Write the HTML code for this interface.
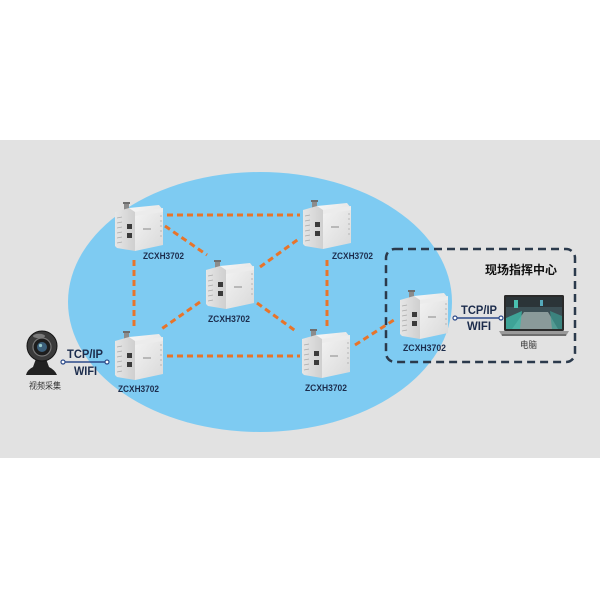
<!DOCTYPE html>
<html><head><meta charset="utf-8"><style>
html,body{margin:0;padding:0;background:#fff;}
svg{display:block;}
text{font-family:"Liberation Sans","Noto Sans CJK SC",sans-serif;}
</style></head><body>
<svg width="600" height="600" viewBox="0 0 600 600" xmlns="http://www.w3.org/2000/svg">
<defs>
  <linearGradient id="body" x1="0" y1="0" x2="1" y2="1">
    <stop offset="0" stop-color="#f7f7f7"/><stop offset="1" stop-color="#d9d9d9"/>
  </linearGradient>
  <linearGradient id="side" x1="0" y1="0" x2="1" y2="0">
    <stop offset="0" stop-color="#e6e6e6"/><stop offset="1" stop-color="#cfcfcf"/>
  </linearGradient>
  <g id="dev">
    <rect x="9" y="0" width="5" height="8" fill="#8c8c8c"/>
    <rect x="8" y="0" width="7" height="2" fill="#6e6e6e"/>
    <polygon points="14,6 44,3 48,8 48,43 20,49 14,46" fill="url(#body)"/>
    <polygon points="0,10 14,6 20,10 20,49 2,46 0,44" fill="url(#side)"/>
    <polygon points="20,10 48,6 48,10 20,14" fill="#ececec"/>
    <g stroke="#aaa" stroke-width="0.8">
      <line x1="2" y1="16" x2="7" y2="15"/><line x1="2" y1="21" x2="7" y2="20"/>
      <line x1="2" y1="26" x2="7" y2="25"/><line x1="2" y1="31" x2="7" y2="30"/>
      <line x1="2" y1="36" x2="7" y2="35"/><line x1="2" y1="41" x2="7" y2="40"/>
      <line x1="45" y1="14" x2="47" y2="14"/><line x1="45" y1="19" x2="47" y2="19"/>
      <line x1="45" y1="24" x2="47" y2="24"/><line x1="45" y1="29" x2="47" y2="29"/>
      <line x1="45" y1="34" x2="47" y2="34"/>
    </g>
    <rect x="12" y="22" width="5" height="5" fill="#3a3a3a"/>
    <rect x="12" y="31" width="5" height="5" fill="#3a3a3a"/>
    <rect x="28" y="26" width="8" height="2" fill="#b8b8b8"/>
  </g>
</defs>

<!-- background band -->
<rect x="0" y="140" width="600" height="318" fill="#e2e2e2"/>
<!-- blue ellipse -->
<ellipse cx="260" cy="302" rx="192" ry="130" fill="#7ecbf2"/>

<!-- dashed box -->
<rect x="386" y="249" width="189" height="113" rx="9" ry="9" fill="none" stroke="#2b3a4c" stroke-width="2.5" stroke-dasharray="8 5"/>

<!-- orange dashed links -->
<g stroke="#e8742a" stroke-width="3" stroke-dasharray="6 4" fill="none">
  <line x1="167" y1="215" x2="300" y2="215"/>
  <line x1="165" y1="226" x2="207" y2="255"/>
  <line x1="260" y1="267" x2="300" y2="238"/>
  <line x1="134" y1="260" x2="134" y2="330"/>
  <line x1="200" y1="302" x2="160" y2="330"/>
  <line x1="167" y1="356" x2="300" y2="356"/>
  <line x1="257" y1="303" x2="297" y2="332"/>
  <line x1="327" y1="260" x2="327" y2="327"/>
  <line x1="355" y1="345" x2="397" y2="318"/>
</g>

<!-- devices -->
<use href="#dev" x="115" y="202"/>
<use href="#dev" x="206" y="260"/>
<use href="#dev" x="303" y="200"/>
<use href="#dev" x="115" y="331"/>
<use href="#dev" x="302" y="329"/>
<use href="#dev" x="400" y="290"/>

<g fill="#1c2c4c" font-size="9" font-weight="bold">
  <text x="143" y="259" textLength="41" lengthAdjust="spacingAndGlyphs">ZCXH3702</text>
  <text x="208" y="322" textLength="42" lengthAdjust="spacingAndGlyphs">ZCXH3702</text>
  <text x="332" y="259" textLength="41" lengthAdjust="spacingAndGlyphs">ZCXH3702</text>
  <text x="118" y="392" textLength="41" lengthAdjust="spacingAndGlyphs">ZCXH3702</text>
  <text x="305" y="391" textLength="42" lengthAdjust="spacingAndGlyphs">ZCXH3702</text>
  <text x="403" y="351" textLength="43" lengthAdjust="spacingAndGlyphs">ZCXH3702</text>
</g>

<!-- camera -->
<g>
  <path d="M37 356 L33 367 Q27 370 26 375 L57 375 Q55 370 49 367 L45 356 Z" fill="#222"/>
  <circle cx="42" cy="346" r="15" fill="#3a3a3a"/>
  <circle cx="42" cy="346" r="15" fill="none" stroke="#151515" stroke-width="1"/>
  <circle cx="42" cy="347" r="9" fill="#1d1d1d" stroke="#777" stroke-width="1.2"/>
  <circle cx="42" cy="347" r="5" fill="#3b5f7a"/>
  <circle cx="40.5" cy="345.5" r="1.6" fill="#9cc"/>
  <ellipse cx="39" cy="336" rx="6" ry="2.2" fill="#7a7a7a"/>
</g>
<text x="29" y="389" font-size="9" fill="#333" textLength="32" lengthAdjust="spacingAndGlyphs">视频采集</text>

<!-- left TCP/IP -->
<text x="67" y="358" font-size="12" font-weight="bold" fill="#1c2c4c" textLength="36" lengthAdjust="spacingAndGlyphs">TCP/IP</text>
<line x1="63" y1="362" x2="107" y2="362" stroke="#2c4a8a" stroke-width="1.5"/>
<circle cx="63" cy="362" r="2" fill="#fff" stroke="#2c4a8a" stroke-width="1.2"/>
<circle cx="107" cy="362" r="2" fill="#fff" stroke="#2c4a8a" stroke-width="1.2"/>
<text x="74" y="375" font-size="12" font-weight="bold" fill="#1c2c4c" textLength="23" lengthAdjust="spacingAndGlyphs">WIFI</text>

<!-- right TCP/IP -->
<text x="461" y="314" font-size="12" font-weight="bold" fill="#1c2c4c" textLength="36" lengthAdjust="spacingAndGlyphs">TCP/IP</text>
<line x1="455" y1="318" x2="501" y2="318" stroke="#2c4a8a" stroke-width="1.5"/>
<circle cx="455" cy="318" r="2" fill="#fff" stroke="#2c4a8a" stroke-width="1.2"/>
<circle cx="501" cy="318" r="2" fill="#fff" stroke="#2c4a8a" stroke-width="1.2"/>
<text x="467" y="330" font-size="12" font-weight="bold" fill="#1c2c4c" textLength="24" lengthAdjust="spacingAndGlyphs">WIFI</text>

<!-- title -->
<text x="485" y="274" font-size="12" font-weight="bold" fill="#111" textLength="72" lengthAdjust="spacingAndGlyphs">现场指挥中心</text>

<!-- laptop -->
<g>
  <rect x="504" y="295" width="60" height="36" rx="1.5" fill="#2a2a2a"/>
  <rect x="506" y="297" width="56" height="32" fill="#3c4f55"/>
  <rect x="506" y="297" width="56" height="10" fill="#2b3438"/>
  <polygon points="512,329 524,312 548,312 558,329" fill="#8a9a9a"/>
  <polygon points="506,318 522,311 520,329 506,329" fill="#3fb8a8" opacity="0.8"/>
  <polygon points="550,311 562,316 562,329 552,329" fill="#3a9a90" opacity="0.7"/>
  <rect x="514" y="300" width="4" height="8" fill="#4ac0b0"/>
  <rect x="540" y="300" width="3" height="6" fill="#5ab"/>
  <polygon points="499,331 569,331 566,336 502,336" fill="#9a9a9a"/>
  <rect x="502" y="334" width="64" height="2" fill="#6e6e6e"/>
</g>
<text x="520" y="348" font-size="9" fill="#333" textLength="17" lengthAdjust="spacingAndGlyphs">电脑</text>
</svg>
</body></html>
